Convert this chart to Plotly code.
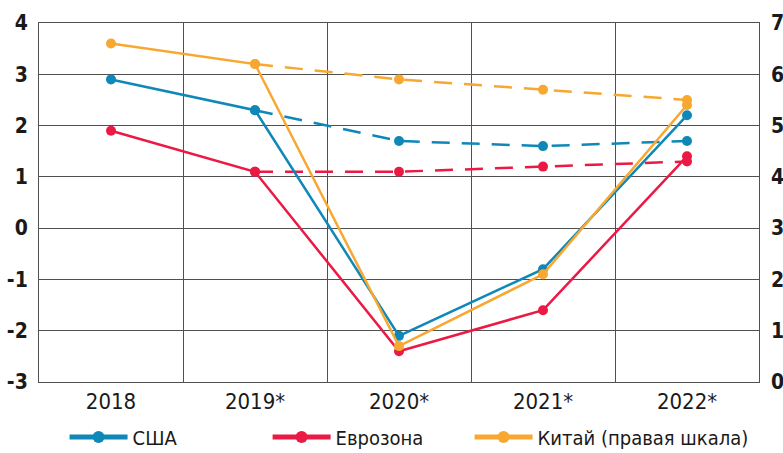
import plotly.graph_objects as go

# Годы (звёздочкой отмечены прогнозы)
years = ["2018", "2019*", "2020*", "2021*", "2022*"]
x_pos = [0, 1, 2, 3, 4]

# Рост ВВП, % — текущий прогноз (сплошные линии)
usa_new = [2.9, 2.3, -2.1, -0.8, 2.2]
euro_new = [1.9, 1.1, -2.4, -1.6, 1.4]
china_new = [6.6, 6.2, 0.7, 2.1, 5.4]

# Прежний прогноз (пунктир), начиная с 2019 года
x_old = [1, 2, 3, 4]
usa_old = [2.3, 1.7, 1.6, 1.7]
euro_old = [1.1, 1.1, 1.2, 1.3]
china_old = [6.2, 5.9, 5.7, 5.5]

left_ticks = [-3, -2, -1, 0, 1, 2, 3, 4]
left_labels = [str(v) for v in left_ticks]  # обычный дефис вместо минуса
right_ticks = [0, 1, 2, 3, 4, 5, 6, 7]

BLUE = "#0f88b8"
RED = "#ea1a45"
ORANGE = "#f8a731"
GRID = "#505050"
FONT = "DejaVu Sans Condensed, Liberation Sans Narrow, Roboto, sans-serif"

fig = go.Figure()

dash = "18px,12px"
for xs, ys, col, ax in [
    (x_old, usa_old, BLUE, "y"),
    (x_old, euro_old, RED, "y"),
    (x_old, china_old, ORANGE, "y2"),
]:
    fig.add_trace(go.Scatter(
        x=xs, y=ys, yaxis=ax, mode="lines+markers", showlegend=False,
        line=dict(color=col, width=2.5, dash=dash),
        marker=dict(color=col, size=10),
        hoverinfo="skip",
    ))

# каждая серия — в своей легенде, чтобы расставить подписи по ширине
series = [
    ("США", usa_new, BLUE, "y", "legend"),
    ("Еврозона", euro_new, RED, "y", "legend2"),
    ("Китай (правая шкала)", china_new, ORANGE, "y2", "legend3"),
]
for name, ys, col, ax, lg in series:
    fig.add_trace(go.Scatter(
        x=x_pos, y=ys, yaxis=ax, mode="lines+markers", name=name,
        legend=lg,
        line=dict(color=col, width=2.5),
        marker=dict(color=col, size=10),
    ))

legend_style = dict(
    orientation="h", y=-0.153, yanchor="middle", xanchor="left",
    font=dict(family=FONT, size=20, color="#1a1a1a"),
    itemsizing="constant", itemwidth=58,
    bgcolor="rgba(0,0,0,0)",
)

fig.update_layout(
    width=783, height=453,
    margin=dict(l=39, r=24, t=23, b=71, autoexpand=False),
    paper_bgcolor="white", plot_bgcolor="white",
    font=dict(family=FONT, size=20, color="#1a1a1a"),
    showlegend=True,
    legend=dict(x=0.0355, **legend_style),
    legend2=dict(x=0.3175, **legend_style),
    legend3=dict(x=0.598, **legend_style),
    xaxis=dict(
        range=[-0.5, 4.5],
        tickvals=x_pos, ticktext=years,
        showgrid=False, zeroline=False,
        showline=True, linecolor=GRID, linewidth=1, mirror=True,
        ticks="", tickfont=dict(size=22), ticklabelstandoff=0,
        minor=dict(tickvals=[0.5, 1.5, 2.5, 3.5], showgrid=True,
                   gridcolor=GRID, gridwidth=1, ticks=""),
    ),
    yaxis=dict(
        range=[-3, 4], tickvals=left_ticks, ticktext=left_labels,
        showgrid=True, gridcolor=GRID, gridwidth=1,
        zeroline=True, zerolinecolor=GRID, zerolinewidth=1,
        showline=True, linecolor=GRID, linewidth=1, mirror=True,
        ticks="", ticklabelstandoff=6,
        tickfont=dict(size=21, weight="bold"),
    ),
    yaxis2=dict(
        range=[0, 7], tickvals=right_ticks,
        overlaying="y", side="right",
        showgrid=False, zeroline=False,
        ticks="", ticklabelstandoff=11,
        tickfont=dict(size=21, weight="bold"),
    ),
)

fig.write_html("out.html")
